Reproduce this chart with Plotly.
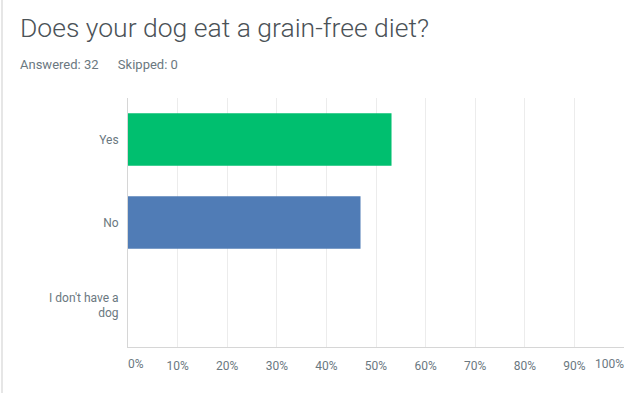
import plotly.graph_objects as go

categories = ["Yes", "No", "I don't have a<br>dog"]
percent_values = [53.13, 46.88, 0.0]
bar_colors = ["#00BF6F", "#507CB6", "#F9BE00"]
tick_values = [0, 10, 20, 30, 40, 50, 60, 70, 80, 90, 100]
tick_labels = ["0%", "10%", "20%", "30%", "40%", "50%", "60%", "70%", "80%", "90%", "100%"]

W, H = 640, 393
ML, MR, MT, MB = 128, 16, 98, 46
PW = W - ML - MR
PH = H - MT - MB

nb = "\u00a0"
# inner labels are centred under their gridline; the two end labels are
# drawn by overlaid axes aligned inward (as in the reference)
inner_labels = [""] + tick_labels[1:-1] + [""]

fig = go.Figure()
fig.add_trace(go.Bar(
    x=percent_values,
    y=categories,
    orientation="h",
    marker=dict(color=bar_colors, line=dict(width=0)),
    width=0.63,
    hoverinfo="x+y",
))
# empty (mode="none") traces so the two overlaid label axes get drawn
for ax in ("x2", "x3"):
    fig.add_trace(go.Scatter(
        x=percent_values[:1], y=categories[:1], xaxis=ax, yaxis="y",
        mode="none", hoverinfo="skip", showlegend=False,
    ))

def px_x(px):
    return (px - ML) / PW

def px_y(py):
    return 1 - (py - MT) / PH

common_x = dict(
    range=[0, 100],
    zeroline=False,
    ticks="",
    ticklabelstandoff=8,
    tickfont=dict(size=12, color="#6b787f"),
    fixedrange=True,
    automargin=False,
)

fig.update_layout(
    width=W, height=H,
    margin=dict(l=ML, r=MR, t=MT, b=MB, pad=0),
    paper_bgcolor="white",
    plot_bgcolor="white",
    showlegend=False,
    font=dict(family="Roboto", color="#6b787f", size=12),
    xaxis=dict(
        tickvals=tick_values,
        ticktext=inner_labels,
        showgrid=True,
        gridcolor="#ececec",
        gridwidth=1,
        showline=True,
        linecolor="#d6d6d6",
        linewidth=1,
        **common_x,
    ),
    xaxis2=dict(
        overlaying="x", anchor="y", side="bottom",
        tickvals=[tick_values[0]],
        ticktext=[tick_labels[0]],
        ticklabelposition="outside right",
        showgrid=False, showline=False,
        **common_x,
    ),
    xaxis3=dict(
        overlaying="x", anchor="y", side="bottom",
        tickvals=[tick_values[-1]],
        ticktext=[tick_labels[-1]],
        ticklabelposition="outside left",
        showgrid=False, showline=False,
        **common_x,
    ),
    yaxis=dict(
        categoryorder="array",
        categoryarray=categories,
        autorange="reversed",
        showgrid=False,
        showline=True,
        linecolor="#d6d6d6",
        linewidth=1,
        zeroline=False,
        ticks="",
        ticklabelstandoff=6,
        tickfont=dict(size=12, color="#6b787f"),
        fixedrange=True,
        automargin=False,
    ),
    annotations=[
        dict(
            text="Does your dog eat a grain-free diet?",
            xref="paper", yref="paper",
            x=px_x(18), y=px_y(27),
            xanchor="left", yanchor="middle",
            showarrow=False,
            font=dict(family="Roboto", size=26.5, color="#4b5257", weight=300),
        ),
        dict(
            text="Answered: 32" + nb * 6 + "Skipped: 0",
            xref="paper", yref="paper",
            x=px_x(18), y=px_y(65),
            xanchor="left", yanchor="middle",
            showarrow=False,
            font=dict(family="Roboto", size=13, color="#6b787f"),
        ),
    ],
    shapes=[
        dict(
            type="line", xref="paper", yref="paper",
            x0=px_x(2), x1=px_x(2), y0=px_y(0), y1=px_y(H),
            line=dict(color="#e6e6e6", width=2),
        ),
    ],
)

fig.write_html(
    "out.html",
    config={"displayModeBar": False},
    post_script="document.body.style.margin='0';document.body.style.overflow='hidden';",
)
